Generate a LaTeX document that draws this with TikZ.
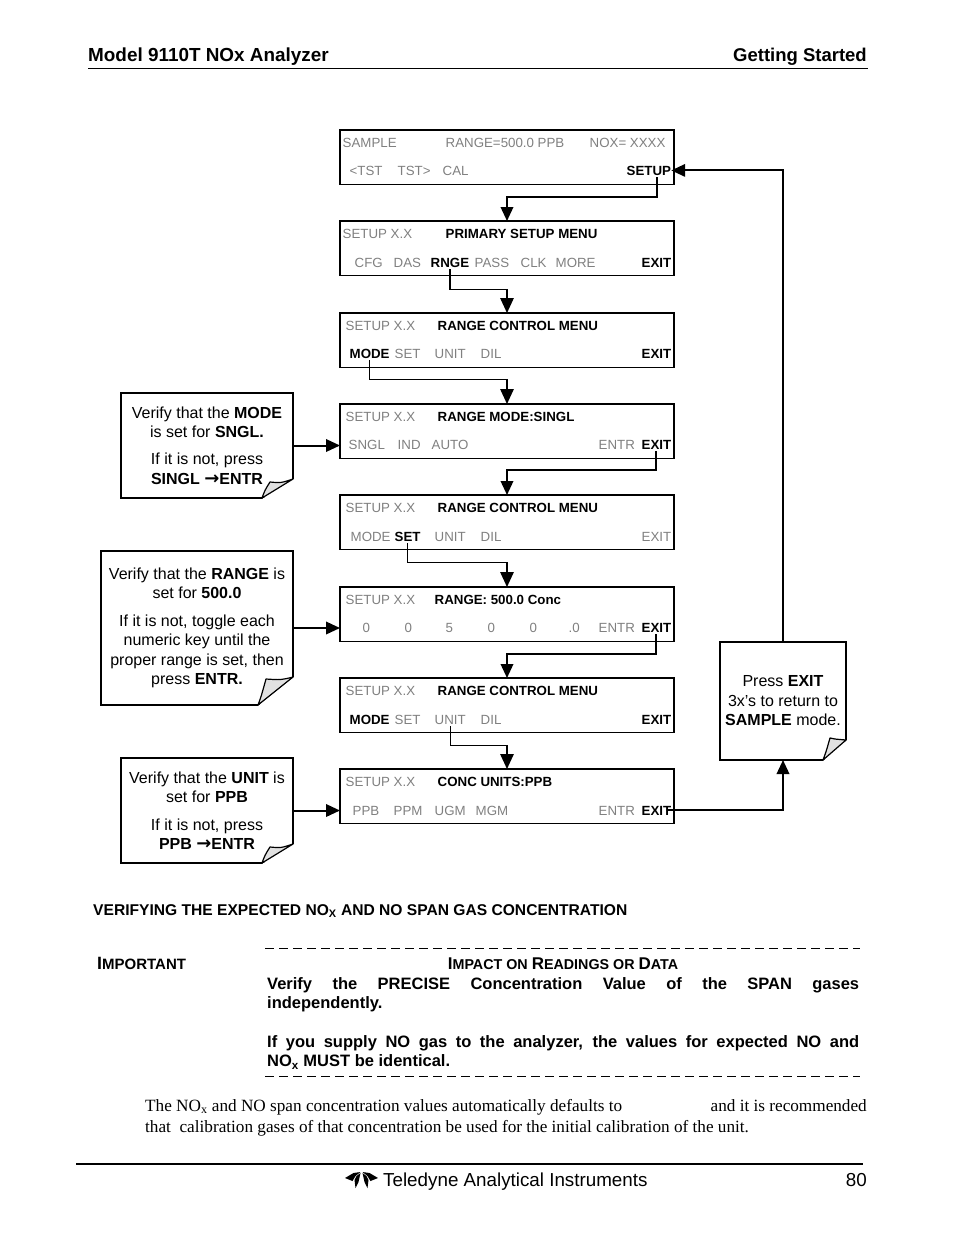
\documentclass[tikz,border=0pt]{standalone}
\usepackage{fontspec}
\setmainfont{Liberation Sans}
\newfontfamily\paperfont{Liberation Serif}
\newfontfamily\arrowfont{DejaVu Sans}
\usepackage{xcolor}
\usetikzlibrary{%
	arrows.meta,%
	calc,%
	positioning
}
\definecolor{lcdgray}{RGB}{128,128,128}
\definecolor{foldgray}{RGB}{225,225,225}
\newcommand{\fsize}[2]{\fontsize{#1}{#2}\selectfont}
\newcommand{\thenarrow}{{\arrowfont\fsize{18}{19.5}→}}
\tikzset{
	screen/.style={draw,line width=1.8pt,outer sep=0pt,fill=white,minimum width=334pt,minimum height=54.5pt,inner sep=0pt,anchor=north west},
	lcd/.style={font=\fsize{13.3}{16},text=lcdgray,anchor=base west,inner xsep=0pt,inner ysep=2pt},
	lcdkey/.style={lcd,font=\fsize{13.3}{16}\bfseries,text=black},
	note/.style={draw,line width=1.2pt,outer sep=0pt,fill=white,inner sep=0pt,align=center,anchor=north west,font=\fsize{16}{19.5}},
	flow/.style={line width=2pt,-{Triangle[length=14pt,width=12.5pt]}},
	flowthin/.style={line width=1.4pt,-{Triangle[length=15pt,width=13.5pt]}},
	headline/.style={font=\fsize{18.5}{22}\bfseries,inner sep=0pt,anchor=base west},
	footline/.style={font=\fsize{18.8}{22},inner sep=0pt,anchor=base west},
	warnhead/.style={font=\fsize{14.3}{16}\bfseries,inner sep=0pt,anchor=base west},
	warntext/.style={font=\fsize{16.5}{19.8}\bfseries,inner sep=0pt,anchor=north west,text width=592pt,align=justify},
	paper/.style={font=\paperfont\fsize{17.2}{20},inner sep=0pt,anchor=base west},
	dashrule/.style={line width=0.8pt,dash pattern=on 9pt off 5pt}
}
\begin{document}
\begin{tikzpicture}[x=1pt,y=-1pt]
	\useasboundingbox (0,0) rectangle (954,1235);
	\node[headline,font=\fsize{18.9}{22}\bfseries] (title) at (88,61) {Model 9110T NOx Analyzer};
	\node[headline,anchor=base east] (chapter) at (867,61) {Getting Started};
	\draw[line width=0.8pt] (88,68) -- (868,68);
	\foreach \Y [count=\N] in {130,221,313,404,495,587,678,769}
		{\node[screen] (s-\N) at (340,\Y) {};}
	\foreach \Y in {330,421,512,604,695,786}
		{\node[lcd] at (345.5,\Y) {SETUP X.X};}
	\foreach \X/\Y/\T in {342.5/147/SAMPLE,445.5/147/RANGE=500.0 PPB,589.5/147/NOX= XXXX,349.5/175/<TST,397.5/175/TST>,442.5/175/CAL,
		342.5/238/SETUP X.X,354.5/267/CFG,393.5/267/DAS,474.5/267/PASS,520.5/267/CLK,555.5/267/MORE,
		394.5/358/SET,434.5/358/UNIT,480.5/358/DIL,
		348.5/449/SNGL,397.5/449/IND,431.5/449/AUTO,598.5/449/ENTR,
		350.5/541/MODE,434.5/541/UNIT,480.5/541/DIL,641.5/541/EXIT,
		362.5/632/0,404.5/632/0,445.5/632/5,487.5/632/0,529.5/632/0,568.5/632/.0,598.5/632/ENTR,
		394.5/724/SET,480.5/724/DIL,
		352.5/815/PPB,393.5/815/PPM,434.5/815/UGM,475.5/815/MGM,598.5/815/ENTR}
		{\node[lcd] at (\X,\Y) {\T};}
	\foreach \X/\Y/\T in {445.5/238/PRIMARY SETUP MENU,641.5/267/EXIT,437.5/330/RANGE CONTROL MENU,641.5/358/EXIT,
		437.5/421/RANGE MODE:SINGL,437.5/512/RANGE CONTROL MENU,434.5/604/RANGE: 500.0 Conc,
		437.5/695/RANGE CONTROL MENU,349.5/724/MODE,641.5/724/EXIT,437.5/786/CONC UNITS:PPB}
		{\node[lcdkey] at (\X,\Y) {\T};}
	\node[lcdkey] (setupkey) at (626.5,175) {SETUP};
	\node[lcdkey] (rngekey) at (430.5,267) {RNGE};
	\node[lcdkey] (modekey) at (349.5,358) {MODE};
	\node[lcdkey] (exitkey-a) at (641.5,449) {EXIT};
	\node[lcdkey] (setkey) at (394.5,541) {SET};
	\node[lcdkey] (exitkey-b) at (641.5,632) {EXIT};
	\node[lcd] (unitkey) at (434.5,724) {UNIT};
	\node[lcdkey] (exitkey-c) at (641.5,815) {EXIT};
	\node[note,minimum width=172pt,minimum height=105pt] (note-a) at (121,393)
		{Verify that the \textbf{MODE}\\is set for \textbf{SNGL.}\\[7.5pt]If it is not, press\\\textbf{SINGL \thenarrow ENTR}};
	\node[note,minimum width=192pt,minimum height=154pt] (note-b) at (101,551)
		{Verify that the \textbf{RANGE} is\\set for \textbf{500.0}\\[8pt]If it is not, toggle each\\numeric key until the\\proper range is set, then\\press \textbf{ENTR.}};
	\node[note,minimum width=172pt,minimum height=105pt] (note-c) at (121,758)
		{Verify that the \textbf{UNIT} is\\set for \textbf{PPB}\\[8pt]If it is not, press\\\textbf{PPB \thenarrow ENTR}};
	\node[note,minimum width=126pt,minimum height=118pt] (note-d) at (720,642)
		{Press \textbf{EXIT}\\3x’s to return to\\\textbf{SAMPLE} mode.};
	\foreach \K/\A/\B/\C/\D in {note-a/31/19/23/16,note-b/35/28/27/26,note-c/31/19/23/16,note-d/23/20/16/22}
		{
			\fill[white] ($(\K.south east)+(1,1)$) -- ($(\K.south east)+(-\A,1)$) -- ($(\K.south east)+(1,-\B)$) -- cycle;
			\draw[line width=1.2pt,line join=round,fill=foldgray] ($(\K.south east)+(-\A,0)$) .. controls ($(\K.south east)+(-\A+3,-8)$) .. ($(\K.south east)+(-\C,-\D)$)
				.. controls ($(\K.south east)+(-12,-\D+1)$) .. ($(\K.south east)+(0,-\B)$) -- cycle;
		}
	\draw[flow] ([xshift=8pt]setupkey.south) -- ++(0,20) -| (s-2.north);
	\draw[flowthin] (rngekey.south) -- ++(0,20) -| (s-3.north);
	\draw[flowthin] (modekey.south) -- ++(0,19) -| (s-4.north);
	\draw[flow] (exitkey-a.south) -- ++(0,19) -| (s-5.north);
	\draw[flowthin] (setkey.south) -- ++(0,19) -| (s-6.north);
	\draw[flow] (exitkey-b.south) -- ++(0,20) -| (s-7.north);
	\draw[flowthin] (unitkey.south) -- ++(0,19) -| (s-8.north);
	\draw[flow] ([xshift=-4pt]exitkey-c.east) -| (note-d.south);
	\draw[flow] (note-d.north) |- (setupkey.east);
	\draw[flow] (note-a.east) -- (s-4.west |- note-a.east);
	\draw[flow] (note-b.east) -- (s-6.west |- note-b.east);
	\draw[flow] (note-c.east) -- (s-8.west |- note-c.east);
	\node[font=\fsize{15.6}{18}\bfseries,inner sep=0pt,anchor=base west] (section) at (93,915)
		{VERIFYING THE EXPECTED NO\textsubscript{X} AND NO SPAN GAS CONCENTRATION};
	\draw[dashrule] (265,948) -- (860,948);
	\node[warnhead,font=\fsize{15}{16}\bfseries] (important) at (97,969) {{\fsize{17.8}{16}I}MPORTANT};
	\node[warnhead,anchor=base] (impact) at (563,969) {{\fsize{17}{16}I}MPACT ON {\fsize{17}{16}R}EADINGS OR {\fsize{17}{16}D}ATA};
	\node[warntext] (verify) at (267,977) {Verify the PRECISE Concentration Value of the SPAN gases\linebreak independently.};
	\node[warntext] (supply) at (267,1035) {If you supply NO gas to the analyzer, the values for expected NO and\linebreak NO\textsubscript{x} MUST be identical.};
	\draw[dashrule] (265,1076) -- (860,1076);
	\node[paper] (para-a) at (145,1111) {The NO\textsubscript{x} and NO span concentration values automatically defaults to};
	\node[paper,anchor=base east] (para-b) at (867,1111) {and it is recommended};
	\node[paper] (para-c) at (145,1132) {that\ \ calibration gases of that concentration be used for the initial calibration of the unit.};
	\draw[line width=2pt] (76,1164) -- (863,1164);
	\foreach \S in {1,-1}
		{
			\begin{scope}[shift={(361.5,1172)},xscale=\S]
				\fill (-16.5,6) -- (-8,1) -- (-1,0) -- (-6,4) -- (-9,9) -- cycle;
				\fill (-1,1) -- (-3,10) -- (-6,16) -- (-7,8) -- (-5,4) -- cycle;
			\end{scope}
		}
	\node[footline] (maker) at (383,1186) {Teledyne Analytical Instruments};
	\node[footline,anchor=base east] (page) at (867,1186) {80};
\end{tikzpicture}
\end{document}
